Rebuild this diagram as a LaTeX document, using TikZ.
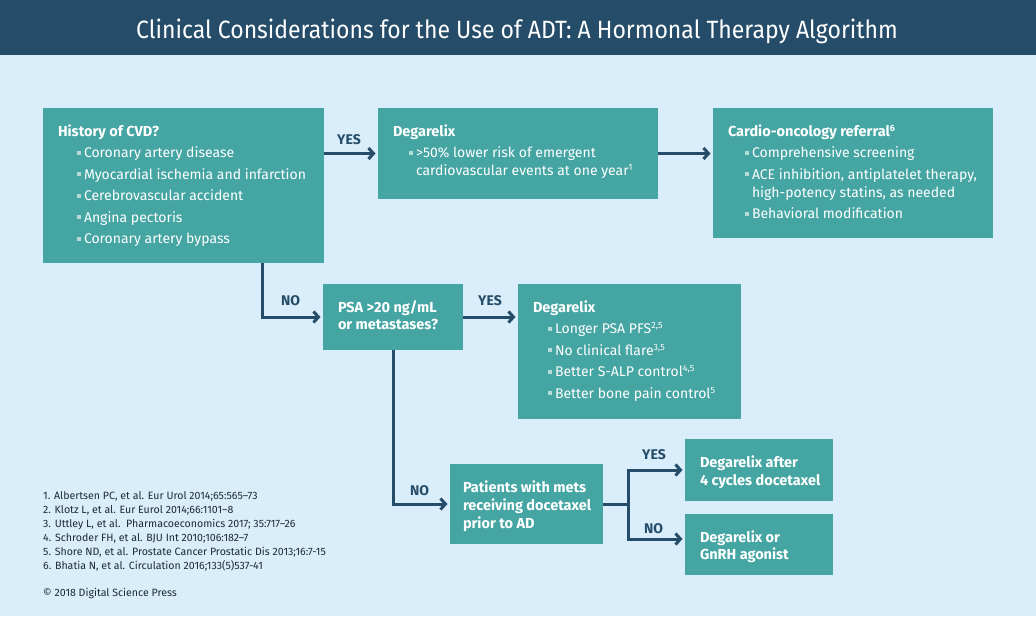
\documentclass[tikz,border=0pt]{standalone}
\usepackage{fontspec}
\setmainfont{Fira Sans}
\newfontfamily\titlefont{Fira Sans}[FakeStretch=0.92]
\usetikzlibrary{arrows.meta,calc}
\definecolor{hdr}{HTML}{254D69}
\definecolor{bgc}{HTML}{D9EEFA}
\definecolor{teal}{HTML}{44A5A3}
\definecolor{bulc}{HTML}{B7DCD8}
\definecolor{reftx}{HTML}{1E2A33}
\newcommand\tline[1]{\hbox{#1}}
\newcommand\bu{\makebox[7pt][l]{\textcolor{bulc}{\rule[3pt]{4pt}{4pt}}}}
\newcommand\sups[1]{\raisebox{5pt}{\fontsize{9}{9}\selectfont #1}}
\newcommand\stk[2]{\vtop{\baselineskip=#1\relax\lineskiplimit=-20pt\relax\lineskip=0pt\relax #2}}
\newcommand\gap{\vskip3.5pt}
\tikzset{
  box/.style={fill=teal, draw=none, inner sep=0pt, outer sep=0pt, anchor=north west},
  txt/.style={text=white, inner sep=0pt, outer sep=0pt, anchor=base west, font=\fontsize{14}{18}\selectfont},
  btxt/.style={txt, font=\fontsize{14.5}{18}\selectfont\bfseries},
  lbl/.style={text=hdr, inner sep=0pt, anchor=base west, font=\fontsize{14}{16}\selectfont\bfseries},
  conn/.style={draw=hdr, line width=3pt, -{Straight Barb[length=5pt,width=11pt,line width=3pt]}, shorten >=2.5pt},
  plain/.style={draw=hdr, line width=3pt},
  reft/.style={text=reftx, inner sep=0pt, anchor=base west, font=\fontsize{10.6}{14}\selectfont}
}
\begin{document}
\begin{tikzpicture}[x=1pt,y=-1pt]
\useasboundingbox (0,0) rectangle (1036,616);
\fill[bgc] (0,0) rectangle (1036,616);
\fill[hdr] (0,0) rectangle (1036,55);
\node[text=white, inner sep=0pt, anchor=base, font=\titlefont\fontsize{25}{28}\selectfont] (title) at (517,38) {Clinical Considerations for the Use of ADT: A Hormonal Therapy Algorithm};

% boxes
\node[box, minimum width=281, minimum height=155] (cvd) at (43,108) {};
\node[box, minimum width=280, minimum height=91] (deg1) at (378,108) {};
\node[box, minimum width=280, minimum height=130] (cardio) at (713,108) {};
\node[box, minimum width=140, minimum height=66] (psa) at (323,284) {};
\node[box, minimum width=223, minimum height=135] (deg2) at (518,284) {};
\node[box, minimum width=153, minimum height=80] (pat) at (450,464) {};
\node[box, minimum width=148, minimum height=62] (d7) at (685,439) {};
\node[box, minimum width=148, minimum height=61] (d8) at (685,514) {};

% box texts
\node[txt] (cvdt) at (58,136) {\stk{21.5pt}{%
  \tline{\fontsize{14.5}{18}\selectfont\bfseries History of CVD?}
  \tline{\hspace{19pt}\bu Coronary artery disease}
  \tline{\hspace{19pt}\bu Myocardial ischemia and infarction}
  \tline{\hspace{19pt}\bu Cerebrovascular accident}
  \tline{\hspace{19pt}\bu Angina pectoris}
  \tline{\hspace{19pt}\bu Coronary artery bypass}}};
\node[txt] (deg1t) at (393,136) {\stk{18pt}{%
  \tline{\fontsize{14.5}{18}\selectfont\bfseries Degarelix}\gap
  \tline{\hspace{16pt}\bu >50\% lower risk of emergent}
  \tline{\hspace{23pt}cardiovascular events at one year\sups{1}}}};
\node[txt] (cardiot) at (728,136) {\stk{18pt}{%
  \tline{\fontsize{14.5}{18}\selectfont\bfseries Cardio-oncology referral\sups{6}}\gap
  \tline{\hspace{17pt}\bu Comprehensive screening}\gap
  \tline{\hspace{17pt}\bu ACE inhibition, antiplatelet therapy,}
  \tline{\hspace{24pt}high-potency statins, as needed}\gap
  \tline{\hspace{17pt}\bu Behavioral modification}}};
\node[btxt] (psat) at (338,312) {\stk{17pt}{%
  \tline{PSA >20 ng/mL}
  \tline{or metastases?}}};
\node[txt] (deg2t) at (533,312) {\stk{21.5pt}{%
  \tline{\fontsize{14.5}{18}\selectfont\bfseries Degarelix}
  \tline{\hspace{15pt}\bu Longer PSA PFS\sups{2,5}}
  \tline{\hspace{15pt}\bu No clinical flare\sups{3,5}}
  \tline{\hspace{15pt}\bu Better S-ALP control\sups{4,5}}
  \tline{\hspace{15pt}\bu Better bone pain control\sups{5}}}};
\node[btxt] (patt) at (463,492) {\stk{18pt}{%
  \tline{Patients with mets}
  \tline{receiving docetaxel}
  \tline{prior to AD}}};
\node[btxt] (d7t) at (700,467) {\stk{18pt}{%
  \tline{Degarelix after}
  \tline{4 cycles docetaxel}}};
\node[btxt] (d8t) at (700,542) {\stk{17.5pt}{%
  \tline{Degarelix or}
  \tline{GnRH agonist}}};

% connectors
\draw[conn] (cvd.east |- deg1.west) -- (deg1.west);
\draw[conn] (deg1.east) -- (cardio.west |- deg1.east);
\coordinate (cvddown) at ($(cvd.south west)+(219,0)$);
\draw[conn] (cvddown) |- (psa.west);
\draw[conn] (psa.east) -- (psa.east -| deg2.west);
\draw[conn] (psa.south) |- (pat.west);
\coordinate (jn) at ($(pat.east)+(25,0)$);
\coordinate (d8in) at ($(d8.west)+(0,-5.5)$);
\draw[plain] (pat.east) -- (jn);
\draw[conn] (jn) |- (d7.west);
\draw[conn] (jn) |- (d8in);

% labels
\node[lbl] (y1) at (337,144) {YES};
\node[lbl] (n1) at (281,305) {NO};
\node[lbl] (y2) at (478,305) {YES};
\node[lbl] (n2) at (410,495) {NO};
\node[lbl] (y3) at (642,459) {YES};
\node[lbl] (n3) at (644,533) {NO};

% references
\node[reft] (refs) at (43,499) {\stk{14pt}{%
  \tline{1. Albertsen PC, et al. Eur Urol 2014;65:565--73}
  \tline{2. Klotz L, et al. Eur Eurol 2014;66:1101--8}
  \tline{3. Uttley L, et al.\ \ Pharmacoeconomics 2017; 35:717--26}
  \tline{4. Schroder FH, et al. BJU Int 2010;106:182--7}
  \tline{5. Shore ND, et al. Prostate Cancer Prostatic Dis 2013;16:7-15}
  \tline{6. Bhatia N, et al. Circulation 2016;133(5)537-41}}};
\node[reft] (copy) at (43,596) {\textcopyright{} 2018 Digital Science Press};
\end{tikzpicture}
\end{document}
